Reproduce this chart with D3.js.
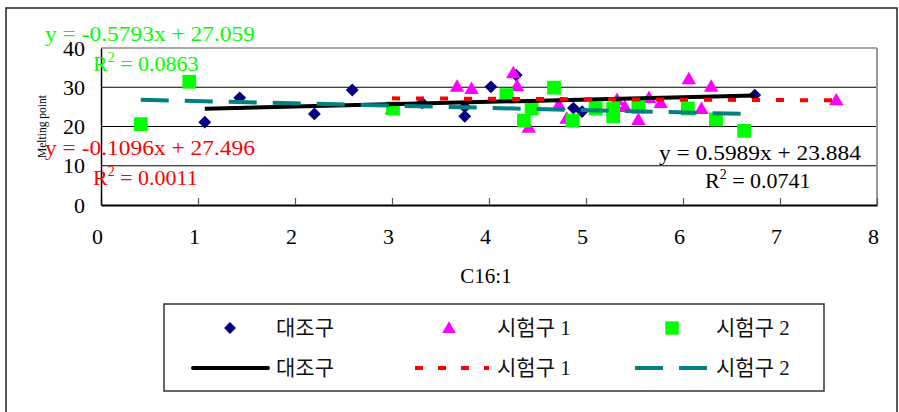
<!DOCTYPE html>
<html>
<head>
<meta charset="utf-8">
<script src="https://cdn.jsdelivr.net/npm/d3@7"></script>
<style>
  html, body { margin: 0; padding: 0; background: #fff; }
  svg { display: block; }
</style>
</head>
<body>
<svg id="chart" width="899" height="412"></svg>
<script>
// Melting point vs. C16:1 content for three groups
const controlX = [1.07, 1.43, 2.20, 2.59, 3.31, 3.75, 3.75, 4.02, 4.28, 4.87, 4.96, 6.74];
const controlY = [21.1, 27.3, 23.2, 29.3, 26.0, 25.0, 22.6, 30.1, 33.1, 24.7, 23.8, 28.0];

const trial1X = [3.00, 3.67, 3.82, 4.25, 4.29, 4.41, 4.72, 4.80, 5.32, 5.40, 5.54, 5.65, 5.77, 6.06, 6.19, 6.29, 7.58];
const trial1Y = [24.5, 30.2, 29.6, 33.6, 30.3, 19.7, 25.5, 22.0, 26.8, 25.0, 21.7, 27.3, 26.0, 32.1, 24.5, 30.2, 26.7];

const trial2X = [0.41, 0.91, 3.01, 4.18, 4.36, 4.44, 4.67, 4.86, 5.10, 5.28, 5.28, 5.54, 6.05, 6.34, 6.63];
const trial2Y = [20.6, 31.4, 24.6, 28.0, 21.5, 24.6, 29.9, 21.5, 24.6, 24.5, 22.6, 25.0, 24.6, 21.8, 18.9];

// Linear trendlines (slope, intercept, R²)
const fitControl = { slope: 0.5989, intercept: 23.884, r2: "0.0741" };
const fitTrial1 = { slope: -0.1096, intercept: 27.496, r2: "0.0011" };
const fitTrial2 = { slope: -0.5793, intercept: 27.059, r2: "0.0863" };

const xTicks = [0, 1, 2, 3, 4, 5, 6, 7, 8];
const yTicks = [0, 10, 20, 30, 40];
const seriesNames = ["대조구", "시험구 1", "시험구 2"];
const xTitle = "C16:1";
const yTitle = "Melting point";

const serif = "'Liberation Serif', 'Times New Roman', serif";
const serifKr = "'Liberation Serif', 'Noto Sans CJK KR', serif";

const svg = d3.select("#chart");

// outer chart frame
svg.append("rect")
  .attr("x", 6).attr("y", 8).attr("width", 891).attr("height", 420)
  .attr("fill", "#fff").attr("stroke", "#222").attr("stroke-width", 1.5);

const x = d3.scaleLinear().domain([0, 8]).range([101, 877]);
const y = d3.scaleLinear().domain([0, 40]).range([205, 48]);

// horizontal gridlines
svg.append("g").selectAll("line")
  .data(yTicks.filter(t => t > 0 && t < 40))
  .join("line")
  .attr("x1", x(0)).attr("x2", x(8))
  .attr("y1", d => y(d)).attr("y2", d => y(d))
  .attr("stroke", "#000").attr("stroke-width", 1.2);

// plot area border (top and right)
svg.append("line").attr("x1", x(0)).attr("x2", x(8)).attr("y1", y(40)).attr("y2", y(40))
  .attr("stroke", "#555").attr("stroke-width", 1.2);
svg.append("line").attr("x1", x(8)).attr("x2", x(8)).attr("y1", y(40)).attr("y2", y(0))
  .attr("stroke", "#999").attr("stroke-width", 2);

// x axis
const xAxis = svg.append("g")
  .attr("transform", `translate(0,${y(0)})`)
  .call(d3.axisBottom(x).tickValues(xTicks).tickSizeInner(-7).tickSizeOuter(0).tickFormat(d3.format("d")));
xAxis.select(".domain").attr("stroke", "#000").attr("stroke-width", 2);
xAxis.selectAll(".tick line").attr("stroke", "#555").attr("stroke-width", 1.2);
xAxis.selectAll(".tick text")
  .attr("y", 31).attr("dy", "0.35em").attr("dx", -4)
  .attr("font-family", serif).attr("font-size", 22).attr("fill", "#000");

// y axis
const yAxis = svg.append("g")
  .attr("transform", `translate(${x(0)},0)`)
  .call(d3.axisLeft(y).tickValues(yTicks).tickSize(0).tickPadding(16).tickFormat(d3.format("d")));
yAxis.select(".domain").attr("stroke", "#000").attr("stroke-width", 1.5);
yAxis.selectAll(".tick text")
  .attr("font-family", serif).attr("font-size", 22).attr("fill", "#000");

// axis titles
svg.append("text")
  .attr("x", 486).attr("y", 276).attr("dy", "0.35em")
  .attr("text-anchor", "middle")
  .attr("font-family", serif).attr("font-size", 21)
  .text(xTitle);
svg.append("text")
  .attr("transform", `translate(42,${(y(0) + y(40)) / 2}) rotate(-90)`)
  .attr("dy", "0.35em")
  .attr("text-anchor", "middle")
  .attr("font-family", serif).attr("font-size", 11.5)
  .text(yTitle);

// marker shapes
const diamond = d3.symbol().type(d3.symbolDiamond2).size(105);
const triangle = d3.symbol().type(d3.symbolTriangle).size(90);
const square = d3.symbol().type(d3.symbolSquare).size(190);

const ptsControl = controlX.map((v, i) => [v, controlY[i]]);
const ptsTrial1 = trial1X.map((v, i) => [v, trial1Y[i]]);
const ptsTrial2 = trial2X.map((v, i) => [v, trial2Y[i]]);

svg.append("g").selectAll("path").data(ptsControl).join("path")
  .attr("d", diamond).attr("fill", "#000080")
  .attr("transform", d => `translate(${x(d[0])},${y(d[1])})`);
svg.append("g").selectAll("path").data(ptsTrial1).join("path")
  .attr("d", triangle).attr("fill", "#FF00FF")
  .attr("transform", d => `translate(${x(d[0])},${y(d[1]) + 1})`);
svg.append("g").selectAll("path").data(ptsTrial2).join("path")
  .attr("d", square).attr("fill", "#00FF00")
  .attr("transform", d => `translate(${x(d[0])},${y(d[1])})`);

// trendlines spanning each group's x range
function trend(fit, xs) {
  const x0 = d3.min(xs), x1 = d3.max(xs);
  return [[x0, fit.intercept + fit.slope * x0], [x1, fit.intercept + fit.slope * x1]];
}
const line = d3.line().x(d => x(d[0])).y(d => y(d[1]));

svg.append("path").datum(trend(fitControl, controlX))
  .attr("d", line).attr("fill", "none")
  .attr("stroke", "#000").attr("stroke-width", 4);
svg.append("path").datum(trend(fitTrial1, trial1X))
  .attr("d", line).attr("fill", "none")
  .attr("stroke", "#FF0000").attr("stroke-width", 4).attr("stroke-dasharray", "8 16");
svg.append("path").datum(trend(fitTrial2, trial2X))
  .attr("d", line).attr("fill", "none")
  .attr("stroke", "#008080").attr("stroke-width", 4).attr("stroke-dasharray", "28 16");

// trendline equations
function fmtEq(fit) {
  const s = fit.slope < 0 ? "-" + Math.abs(fit.slope).toFixed(4) : fit.slope.toFixed(4);
  return `y = ${s}x + ${fit.intercept.toFixed(3)}`;
}
function equation(fit, color, ex, ey, rx, ry, anchor, eqLen) {
  svg.append("text")
    .attr("x", ex).attr("y", ey).attr("dy", "0.35em")
    .attr("text-anchor", anchor)
    .attr("font-family", serif).attr("font-size", 22).attr("fill", color)
    .attr("textLength", eqLen).attr("lengthAdjust", "spacingAndGlyphs")
    .text(fmtEq(fit));
  const r = svg.append("text")
    .attr("x", rx).attr("y", ry).attr("dy", "0.35em")
    .attr("font-family", serif).attr("font-size", 22).attr("fill", color);
  r.append("tspan").text("R");
  r.append("tspan").attr("font-size", 14).attr("dy", "-0.6em").text("2");
  r.append("tspan").attr("dy", "0.4em").text(` = ${fit.r2}`);
}
equation(fitTrial2, "#00FF00", 45, 33, 93, 63, "start", 210);
equation(fitTrial1, "#FF0000", 45, 147, 93, 177, "start", 210);
equation(fitControl, "#000", 861, 152, 705, 180, "end", 202);

// legend
const lg = svg.append("g");
lg.append("rect")
  .attr("x", 164).attr("y", 304).attr("width", 660).attr("height", 87)
  .attr("fill", "#fff").attr("stroke", "#333").attr("stroke-width", 1.5);

const markerX = [230, 449, 672];
const textX = [276, 497, 716];
const lineSeg = [[193, 268], [415, 489], [635, 707]];
const row1 = 328, row2 = 368;
const markerShapes = [
  { gen: d3.symbol().type(d3.symbolDiamond2).size(90), color: "#000080" },
  { gen: d3.symbol().type(d3.symbolTriangle).size(80), color: "#FF00FF" },
  { gen: d3.symbol().type(d3.symbolSquare).size(180), color: "#00FF00" }
];
const lineStyles = [
  { color: "#000", dash: null },
  { color: "#FF0000", dash: "8 15" },
  { color: "#008080", dash: "28 16" }
];

seriesNames.forEach((name, i) => {
  lg.append("path")
    .attr("d", markerShapes[i].gen).attr("fill", markerShapes[i].color)
    .attr("transform", `translate(${markerX[i]},${row1 + (i === 1 ? 1 : 0)})`);
  lg.append("text")
    .attr("x", textX[i]).attr("y", row1).attr("dy", "0.35em")
    .attr("font-family", serifKr).attr("font-size", 21).attr("fill", "#111")
    .text(name);
  lg.append("line")
    .attr("x1", lineSeg[i][0]).attr("x2", lineSeg[i][1])
    .attr("y1", row2).attr("y2", row2)
    .attr("stroke", lineStyles[i].color).attr("stroke-width", 4)
    .attr("stroke-linecap", i === 0 ? "round" : "butt")
    .attr("stroke-dasharray", lineStyles[i].dash);
  lg.append("text")
    .attr("x", textX[i]).attr("y", row2).attr("dy", "0.35em")
    .attr("font-family", serifKr).attr("font-size", 21).attr("fill", "#111")
    .text(name);
});
</script>
</body>
</html>
